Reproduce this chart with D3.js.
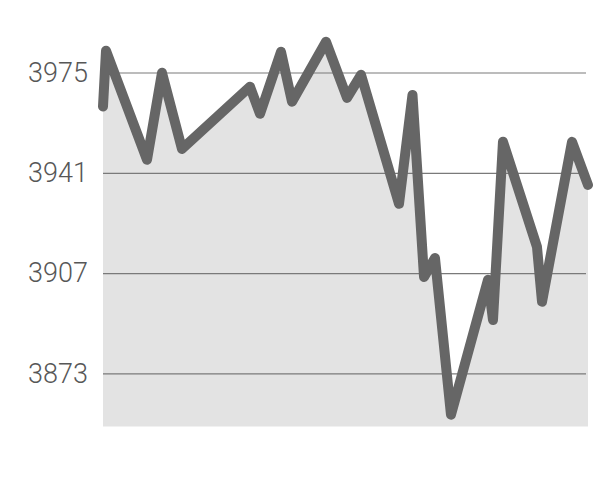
<!DOCTYPE html>
<html>
<head>
<meta charset="utf-8">
<script src="https://cdn.jsdelivr.net/npm/d3@7"></script>
<style>
  html, body { margin: 0; padding: 0; background: #fff; }
  svg { display: block; }
</style>
</head>
<body>
<svg id="chart" width="600" height="501"></svg>
<script>
// time positions (arbitrary units, 0..100)
const times = [0, 0.62, 9.07, 12.16, 16.29, 30.31, 32.37, 36.7, 38.97, 45.98, 50.31, 53.2,
               61.03, 63.81, 66.19, 68.45, 71.75, 79.38, 80.41, 82.47, 89.48, 90.52, 96.7, 100];
const values = [3963.5, 3982.4, 3945.4, 3974.9, 3949.1, 3970.2, 3961.0, 3982.0, 3965.1, 3985.4, 3966.4, 3974.2,
                3930.5, 3967.4, 3905.7, 3912.1, 3859.0, 3904.7, 3891.1, 3951.5, 3915.9, 3897.3, 3951.5, 3936.9];
const tickValues = [3975, 3941, 3907, 3873];
const tickLabels = ["3975", "3941", "3907", "3873"];

const data = times.map((t, i) => ({ t, v: values[i] }));

const svg = d3.select("#chart");
const x = d3.scaleLinear().domain([0, 100]).range([103, 588]);
const y = d3.scaleLinear().domain([3855, 3995]).range([426.5, 13.5]);

// area
svg.append("path")
  .datum(data)
  .attr("fill", "#e3e3e3")
  .attr("d", d3.area().x(d => x(d.t)).y0(y(3855)).y1(d => y(d.v)));

// gridlines + labels via axis
const axis = d3.axisLeft(y)
  .tickValues(tickValues)
  .tickFormat((d, i) => tickLabels[i])
  .tickSize(-(586 - 103))
  .tickPadding(15);

const g = svg.append("g").attr("transform", "translate(103,0)").call(axis);
g.select(".domain").remove();
g.selectAll(".tick line").attr("stroke", "#7a7a7a").attr("stroke-width", 1.2);
g.selectAll(".tick text")
  .attr("fill", "#575757")
  .attr("font-family", "Roboto, 'Liberation Sans', sans-serif")
  .attr("font-weight", 300)
  .attr("font-size", 27);

// line
svg.append("path")
  .datum(data)
  .attr("fill", "none")
  .attr("stroke", "#666")
  .attr("stroke-width", 10)
  .attr("stroke-linejoin", "round")
  .attr("stroke-linecap", "round")
  .attr("d", d3.line().x(d => x(d.t)).y(d => y(d.v)));
</script>
</body>
</html>
